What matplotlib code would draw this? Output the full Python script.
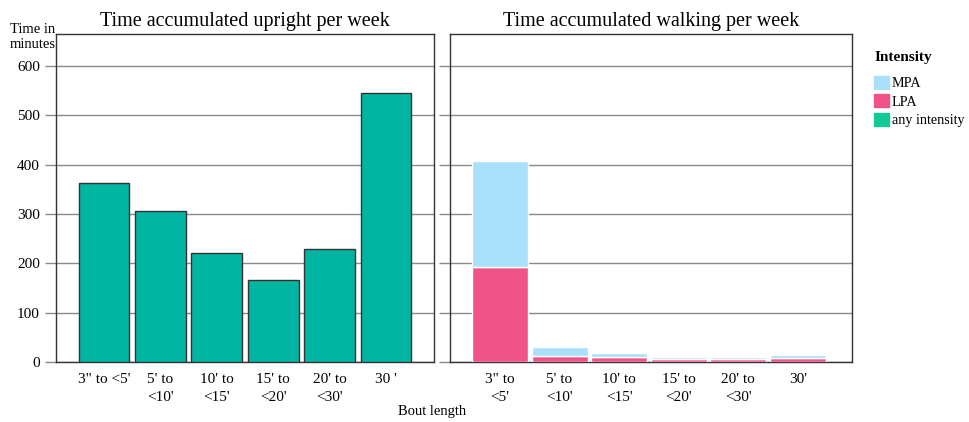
import matplotlib
matplotlib.use("Agg")
import matplotlib.pyplot as plt
from matplotlib.patches import Patch

plt.rcParams['font.family'] = ['Liberation Serif', 'DejaVu Serif']

# Data
left_labels = ['3" to <5\'', "5' to\n<10'", "10' to\n<15'", "15' to\n<20'", "20' to\n<30'", "30 '"]
right_labels = ['3" to\n<5\'', "5' to\n<10'", "10' to\n<15'", "15' to\n<20'", "20' to\n<30'", "30'"]
upright_any = [363, 306, 221, 166, 229, 545]
walking_lpa = [193, 13, 9.5, 7, 7, 7.5]
walking_mpa = [214, 17, 8, 2.5, 2.5, 6]
yticks = [0, 100, 200, 300, 400, 500, 600]

teal = '#00B5A2'
mpa_c = '#A8E1F9'
lpa_c = '#F05387'
any_c = '#14C996'
grid_c = '#8a8a8a'

fig = plt.figure(figsize=(9.7, 4.22), dpi=100)
axL = fig.add_axes([0.0577, 0.1422, 0.3897, 0.7773])
axR = fig.add_axes([0.4639, 0.1422, 0.4144, 0.7773])

x = list(range(6))
axL.bar(x, upright_any, width=0.9, color=teal, edgecolor='#333333', linewidth=1.0, zorder=3)
axL.set_xlim(-0.85, 5.85)

axR.bar(x, walking_lpa, width=0.94, color=lpa_c, edgecolor='white', linewidth=1.0, zorder=3)
axR.bar(x, walking_mpa, bottom=walking_lpa, width=0.94, color=mpa_c, edgecolor='white', linewidth=1.0, zorder=3)
axR.set_xlim(-0.84, 5.91)

for ax, labs in ((axL, left_labels), (axR, right_labels)):
    ax.set_ylim(0, 665)
    ax.set_yticks(yticks)
    ax.yaxis.grid(True, color=grid_c, linewidth=1.0, zorder=0)
    ax.set_axisbelow(True)
    ax.set_xticks(x)
    ax.set_xticklabels(labs, fontsize=11, linespacing=1.45)
    ax.tick_params(axis='x', length=0, pad=8)
    ax.tick_params(axis='y', length=8, width=1.0, color=grid_c, labelsize=11)
    for s in ax.spines.values():
        s.set_color('#333333')
        s.set_linewidth(1.0)

axR.set_yticklabels([])

axL.set_title('Time accumulated upright per week', fontsize=14.5, pad=6)
axR.set_title('Time accumulated walking per week', fontsize=14.5, pad=6)

fig.text(0.010, 0.878, 'Time in\nminutes', fontsize=10.5, ha='left', va='bottom', linespacing=1.25)
fig.text(0.445, 0.01, 'Bout length', fontsize=10.5, ha='center', va='bottom')

handles = [Patch(color=mpa_c, label='MPA'), Patch(color=lpa_c, label='LPA'), Patch(color=any_c, label='any intensity')]
leg = fig.legend(handles=handles, loc='upper left', bbox_to_anchor=(0.894, 0.895), frameon=False,
                 title='Intensity', fontsize=10.2, title_fontproperties={'weight': 'bold', 'size': 11},
                 handlelength=1.05, handleheight=1.05, handletextpad=0.2, labelspacing=0.3, borderpad=0.0,
                 alignment='left')
leg._legend_box.sep = 8

fig.savefig('out.png', dpi=100)
